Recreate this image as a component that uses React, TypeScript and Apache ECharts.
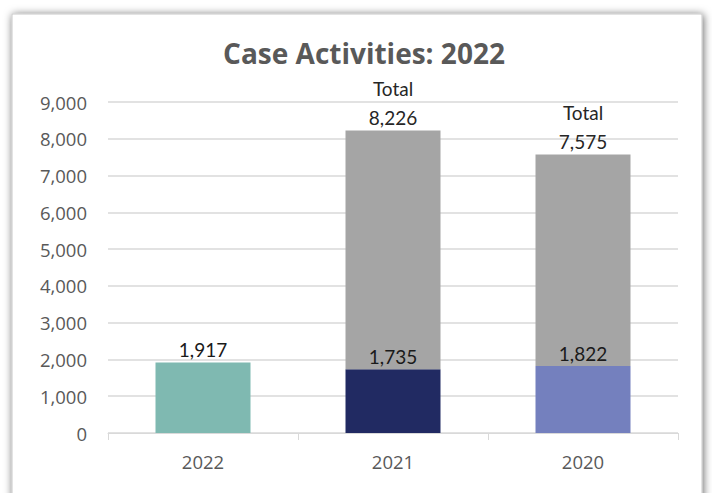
import React, { useEffect, useRef } from "react";
import * as echarts from "echarts";

const categories = ["2022", "2021", "2020"];
const baseValues = [1917, 1735, 1822];
const totalValues: (number | null)[] = [null, 8226, 7575];
const baseColors = ["#7fb9b1", "#212a62", "#7480be"];
const yTicks = { min: 0, max: 9000, interval: 1000 };

const fmt = (v: number) => v.toLocaleString("en-US");

export default function App() {
  const ref = useRef<HTMLDivElement>(null);
  useEffect(() => {
    if (!ref.current) return;
    const chart = echarts.init(ref.current, null, { renderer: "svg" });
    const grayData = totalValues.map((t, i) => (t == null ? "-" : t - baseValues[i]));
    chart.setOption({
      animation: false,
      backgroundColor: "#ffffff",
      graphic: [
        {
          type: "rect",
          z: -10,
          shape: { x: 12, y: 14, width: 690, height: 500 },
          style: {
            fill: "#ffffff",
            stroke: "#c8c8c8",
            lineWidth: 1,
            shadowBlur: 8,
            shadowColor: "rgba(0,0,0,0.6)",
            shadowOffsetX: 1,
            shadowOffsetY: 1,
          },
        },
      ],
      title: {
        text: "Case Activities: 2022",
        left: 359,
        textAlign: "center",
        top: 34,
        textStyle: {
          fontFamily: "Open Sans",
          fontWeight: "bold",
          fontSize: 28,
          color: "#595959",
        },
      },
      grid: { left: 108, right: 34, top: 102, bottom: 60, containLabel: false },
      xAxis: {
        type: "category",
        data: categories,
        axisLine: { show: true, lineStyle: { color: "#d9d9d9", width: 1 } },
        axisTick: { show: true, length: 7, lineStyle: { color: "#d9d9d9" } },
        axisLabel: { fontFamily: "Open Sans", fontSize: 18.5, color: "#595959", margin: 19 },
      },
      yAxis: {
        type: "value",
        min: yTicks.min,
        max: yTicks.max,
        interval: yTicks.interval,
        axisLine: { show: false },
        axisTick: { show: false },
        splitLine: { lineStyle: { color: "#d9d9d9", width: 1.5 } },
        axisLabel: {
          fontFamily: "Open Sans",
          fontSize: 18.5,
          color: "#595959",
          margin: 21,
          formatter: (v: number) => fmt(v),
        },
      },
      series: [
        {
          type: "bar",
          stack: "a",
          barWidth: "50%",
          data: baseValues.map((v, i) => ({ value: v, itemStyle: { color: baseColors[i] } })),
          label: {
            show: true,
            position: "top",
            distance: 3,
            fontFamily: "Lato",
            fontSize: 19,
            color: "#1a1a1a",
            formatter: (p: any) => fmt(p.value),
          },
        },
        {
          type: "bar",
          stack: "a",
          barWidth: "50%",
          itemStyle: { color: "#a5a5a5" },
          data: grayData,
          label: {
            show: true,
            position: "top",
            distance: -2,
            fontFamily: "Lato",
            fontSize: 19,
            lineHeight: 29,
            color: "#262626",
            formatter: (p: any) => {
              const t = totalValues[p.dataIndex];
              return t == null ? "" : "Total\n" + fmt(t);
            },
          },
        },
      ],
    });
    return () => chart.dispose();
  }, []);
  return (
    <div
      ref={ref}
      style={{ position: "fixed", left: 0, top: 0, width: 712, height: 493 }}
    />
  );
}
